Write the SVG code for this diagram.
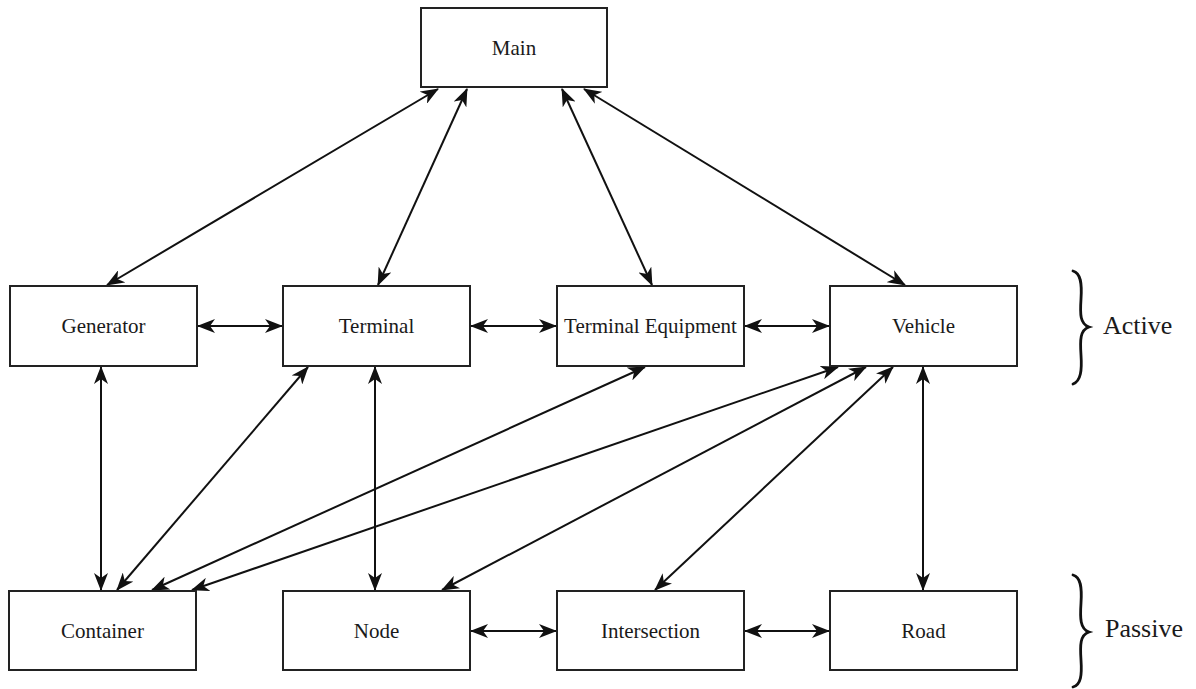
<svg xmlns="http://www.w3.org/2000/svg" width="1196" height="689" viewBox="0 0 1196 689">
  <style>
    .box { fill: #ffffff; stroke: #222222; stroke-width: 2; }
    .label { font-family: 'Liberation Serif', serif; font-size: 21px; fill: #1a1a1a; text-anchor: middle; }
    .group { font-family: 'Liberation Serif', serif; font-size: 26px; fill: #1a1a1a; }
    .edge { stroke: #111111; stroke-width: 2; fill: none; marker-start: url(#head); marker-end: url(#head); }
    .brace { stroke: #111111; stroke-width: 2.8; fill: none; stroke-linecap: round; }
  </style>
  <defs>
    <marker id="head" markerUnits="userSpaceOnUse" markerWidth="18" markerHeight="14" viewBox="0 0 18 14" refX="17" refY="7" orient="auto-start-reverse">
      <path d="M18,7 L0,0 L5,7 L0,14 Z" fill="#111111"/>
    </marker>
  </defs>
  <rect width="1196" height="689" fill="#ffffff"/>

  <!-- connectors -->
  <g id="connectors">
    <line class="edge" x1="438" y1="89" x2="107" y2="285"/>
    <line class="edge" x1="467" y1="89" x2="378" y2="285"/>
    <line class="edge" x1="562" y1="89" x2="652" y2="285"/>
    <line class="edge" x1="584" y1="89" x2="905" y2="285"/>
    <line class="edge" x1="198" y1="326" x2="282" y2="326"/>
    <line class="edge" x1="471" y1="326" x2="556" y2="326"/>
    <line class="edge" x1="745" y1="326" x2="829" y2="326"/>
    <line class="edge" x1="101" y1="367" x2="101" y2="590"/>
    <line class="edge" x1="308" y1="367" x2="117" y2="590"/>
    <line class="edge" x1="375" y1="367" x2="375" y2="590"/>
    <line class="edge" x1="645" y1="367" x2="152" y2="590"/>
    <line class="edge" x1="838" y1="367" x2="192" y2="590"/>
    <line class="edge" x1="866" y1="367" x2="442" y2="590"/>
    <line class="edge" x1="893" y1="367" x2="655" y2="590"/>
    <line class="edge" x1="923" y1="367" x2="923" y2="590"/>
    <line class="edge" x1="471" y1="631" x2="556" y2="631"/>
    <line class="edge" x1="745" y1="631" x2="829" y2="631"/>
  </g>

  <!-- nodes -->
  <g id="main">
    <rect class="box" x="421" y="8" width="186" height="79"/>
    <text class="label" x="514" y="55">Main</text>
  </g>
  <g id="generator">
    <rect class="box" x="10" y="286" width="187" height="80"/>
    <text class="label" x="103.5" y="333">Generator</text>
  </g>
  <g id="terminal">
    <rect class="box" x="283" y="286" width="187" height="80"/>
    <text class="label" x="376.5" y="333">Terminal</text>
  </g>
  <g id="terminal-equipment">
    <rect class="box" x="557" y="286" width="187" height="80"/>
    <text class="label" x="650.5" y="333">Terminal Equipment</text>
  </g>
  <g id="vehicle">
    <rect class="box" x="830" y="286" width="187" height="80"/>
    <text class="label" x="923.5" y="333">Vehicle</text>
  </g>
  <g id="container">
    <rect class="box" x="9" y="591" width="187" height="79"/>
    <text class="label" x="102.5" y="638">Container</text>
  </g>
  <g id="node">
    <rect class="box" x="283" y="591" width="187" height="79"/>
    <text class="label" x="376.5" y="638">Node</text>
  </g>
  <g id="intersection">
    <rect class="box" x="557" y="591" width="187" height="79"/>
    <text class="label" x="650.5" y="638">Intersection</text>
  </g>
  <g id="road">
    <rect class="box" x="830" y="591" width="187" height="79"/>
    <text class="label" x="923.5" y="638">Road</text>
  </g>

  <!-- group braces -->
  <g id="active-group">
    <path class="brace" d="M1073,271 C1081,273 1082,284 1081,299 C1080,314 1080,324 1089,327 C1080,330 1080,340 1081,355 C1082,370 1081,381 1073,384"/>
    <text class="group" x="1103" y="334">Active</text>
  </g>
  <g id="passive-group">
    <path class="brace" d="M1073,575 C1081,577 1082,588 1081,603 C1080,618 1080,629 1089,632 C1080,635 1080,645 1081,660 C1082,675 1081,685 1073,687"/>
    <text class="group" x="1105" y="637">Passive</text>
  </g>
</svg>
